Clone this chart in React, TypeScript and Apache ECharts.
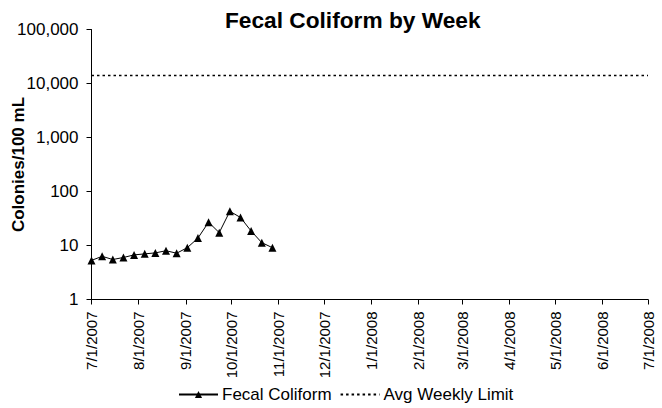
import React, { useEffect, useRef } from "react";
import * as echarts from "echarts";

const sampleDates = [
  "2007-07-01", "2007-07-08", "2007-07-15", "2007-07-22", "2007-07-29",
  "2007-08-05", "2007-08-12", "2007-08-19", "2007-08-26", "2007-09-02",
  "2007-09-09", "2007-09-16", "2007-09-23", "2007-09-30", "2007-10-07",
  "2007-10-14", "2007-10-21", "2007-10-28",
];
const fecalColiform = [5.3, 6.3, 5.5, 6.0, 6.7, 7.0, 7.3, 8.0, 7.2, 9.1, 13.7, 27, 17.3, 43, 33, 18.5, 11.3, 9.1];
const limitDates = ["2007-07-01", "2008-07-01"];
const avgWeeklyLimit = [14000, 14000];
const yTicks = [1, 10, 100, 1000, 10000, 100000];
const xStart = "2007-07-01";
const xEnd = "2008-07-01";

const toTs = (s: string) => {
  const [y, m, d] = s.split("-").map(Number);
  return Date.UTC(y, m - 1, d);
};

export default function App() {
  const ref = useRef<HTMLDivElement>(null);
  useEffect(() => {
    if (!ref.current) return;
    const chart = echarts.init(ref.current, undefined, { renderer: "svg" });
    const font = "'Liberation Sans', Arial, sans-serif";
    chart.setOption({
      animation: false,
      useUTC: true,
      backgroundColor: "#ffffff",
      textStyle: { fontFamily: font },
      title: {
        text: "Fecal Coliform by Week",
        left: 225,
        top: 8,
        padding: 0,
        textStyle: { fontFamily: font, fontSize: 22.7, fontWeight: "bold", color: "#000" },
      },
      legend: {
        left: 178,
        top: 386,
        padding: 0,
        itemGap: 8,
        itemWidth: 39,
        itemHeight: 9,
        textStyle: { fontFamily: font, fontSize: 17, color: "#000", padding: [0, 0, 0, -1] },
        data: [
          { name: "Fecal Coliform" },
          { name: "Avg Weekly Limit", itemStyle: { opacity: 0 } },
        ],
      },
      grid: {
        left: 91.5,
        right: 14,
        top: 29.5,
        bottom: 108.5,
        containLabel: false,
        outerBoundsMode: "none",
      },
      xAxis: {
        type: "time",
        min: toTs(xStart),
        max: toTs(xEnd),
        splitNumber: 12,
        minInterval: 28 * 86400000,
        maxInterval: 31 * 86400000,
        axisLine: { show: true, lineStyle: { color: "#000", width: 1 } },
        axisTick: { show: true, length: 5, lineStyle: { color: "#000" } },
        splitLine: { show: false },
        axisLabel: {
          rotate: 90,
          interval: 0,
          hideOverlap: false,
          showMinLabel: true,
          showMaxLabel: true,
          fontFamily: font,
          fontSize: 15,
          color: "#000",
          margin: 12,
          formatter: (v: number) => {
            const d = new Date(v);
            return `${d.getUTCMonth() + 1}/${d.getUTCDate()}/${d.getUTCFullYear()}`;
          },
        },
      },
      yAxis: {
        type: "log",
        logBase: 10,
        min: yTicks[0],
        max: yTicks[yTicks.length - 1],
        name: "Colonies/100 mL",
        nameLocation: "middle",
        nameRotate: 90,
        nameGap: 65,
        nameMoveOverlap: false,
        nameTextStyle: { fontFamily: font, fontSize: 17, fontWeight: "bold", color: "#000" },
        axisLine: { show: true, lineStyle: { color: "#000", width: 1 } },
        axisTick: { show: true, length: 5, lineStyle: { color: "#000" } },
        splitLine: { show: false },
        minorTick: { show: false },
        axisLabel: {
          fontFamily: font,
          fontSize: 17,
          color: "#000",
          margin: 13,
          formatter: (v: number) => Math.round(v).toLocaleString("en-US"),
        },
      },
      series: [
        {
          name: "Fecal Coliform",
          type: "line",
          data: sampleDates.map((d, i) => [toTs(d), fecalColiform[i]]),
          symbol: "triangle",
          symbolSize: 8,
          showAllSymbol: true,
          lineStyle: { color: "#000", width: 1 },
          itemStyle: { color: "#000" },
        },
        {
          name: "Avg Weekly Limit",
          type: "line",
          data: limitDates.map((d, i) => [toTs(d), avgWeeklyLimit[i]]),
          symbol: "none",
          lineStyle: { color: "#000", width: 1.5, type: [2.5, 3] },
          itemStyle: { color: "#000" },
        },
      ],
    });
    return () => chart.dispose();
  }, []);
  return (
    <div
      ref={ref}
      style={{ position: "fixed", left: 0, top: 0, width: 662, height: 408 }}
    />
  );
}
